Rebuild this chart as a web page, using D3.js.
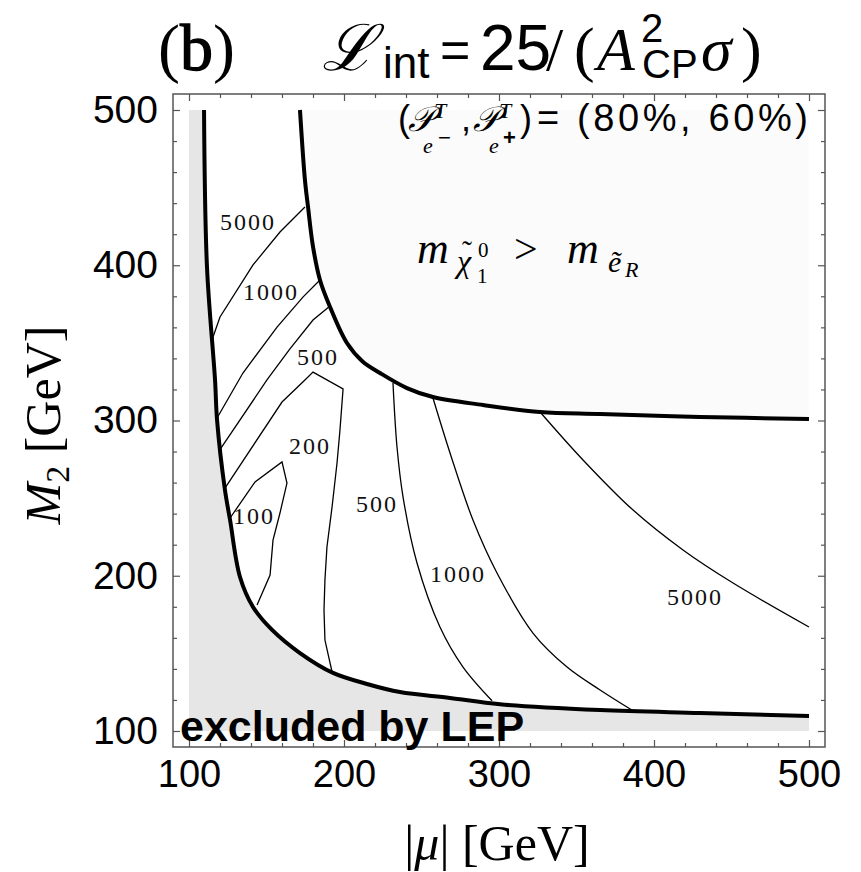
<!DOCTYPE html>
<html><head><meta charset="utf-8">
<script src="https://cdn.jsdelivr.net/npm/d3@7/dist/d3.min.js"></script>
<style>body{margin:0;background:#fff}svg{display:block}</style>
</head><body>
<svg id="chart" width="861" height="872"></svg>
<script>
// ---------- data (μ [GeV], M2 [GeV]) ----------
const xTickLabels = [100, 200, 300, 400, 500];
const yTickLabels = [100, 200, 300, 400, 500];
const minorTicks = [120, 140, 160, 180, 220, 240, 260, 280, 320, 340, 360, 380, 420, 440, 460, 480];

// LEP exclusion boundary (thick line)
const lepBoundary = [[109.7,500],[111.6,398.9],[116.8,326.1],[118.1,300.3],[123.2,255.2],[126.5,235.9],
  [132.9,199.2],[141.3,179.9],[153.6,165.1],[171.6,150.2],[192.9,137.4],[214.8,130.3],[236.1,125.1],
  [268.4,121.3],[300.7,117.2],[365.2,113.5],[429.7,111.6],[500,109.7]];

// m_chi1 > m_eR boundary (thick line)
const lspBoundary = [[171.6,500],[174.8,454.9],[176.8,437.5],[180,412],[184.5,390.5],[191,373.1],[201.9,349.9],
  [212,338],[223.2,330.6],[240.6,320.9],[257.4,315.1],[289.7,310],[326.5,305.5],[365.2,304.2],[429.7,302.3],[500,301]];

// contours of required luminosity
const contour5000L = [[174.8,437.5],[158.7,421.4],[141.3,400.2],[120,366.7],[115.5,353.8],[114.8,343.5]];
const contour1000L = [[184.5,390.5],[173.5,379.5],[156.8,360.2],[134.8,330.6],[118.1,301.6]];
const contour500L  = [[190,373],[180,364.7],[165,346],[150.3,326.1],[120.5,282]];
const contour200   = [[123.2,256.5],[160,311.9],[174.8,326.1],[180,331.2],[199.4,320.3],[197.4,293.9],
  [195.5,272.6],[192.3,244.3],[189,218.5],[187.7,197.3],[187.1,177.9],[187.7,158.6],[192.3,138]];
const contour100   = [[126.5,237.2],[142.6,260.4],[160,273.3],[163.2,259.7],[158.7,240.4],[154.2,223],
  [152.3,200.5],[143.9,181.2]];
const contour500R  = [[231.6,324.1],[234.2,282.9],[238.1,250.7],[247.1,208.2],[261.9,167],[276.8,141.2],[295.5,119.5]];
const contour1000R = [[257.4,314.5],[268.4,279.1],[283.2,235.9],[298.7,201.8],[321.9,163.1],[343.9,141.2],
  [365.2,126.4],[386.5,113]];
const contour5000R = [[326.5,305.5],[354.2,274.6],[386.5,242.3],[418.7,216.6],[451,195.3],[500,167]];

const contourLabels = [
  {text:"5000", mu:138.1, m2:427.8},
  {text:"1000", mu:152.9, m2:382.8},
  {text:"500",  mu:183.2, m2:340.9},
  {text:"200",  mu:178.1, m2:283.6},
  {text:"100",  mu:141.9, m2:238.5},
  {text:"500",  mu:221.3, m2:246.2},
  {text:"1000", mu:273.6, m2:201.1},
  {text:"5000", mu:426.5, m2:186.3}
];

// ---------- drawing ----------
const svg = d3.select("#chart");
const x = d3.scaleLinear().domain([100, 500]).range([189, 809]);
const y = d3.scaleLinear().domain([100, 500]).range([731, 110]);
const pad = 16;
const serif = "'Liberation Serif','DejaVu Serif',serif";
const sans = "'Liberation Sans',Arial,sans-serif";

const smooth = d3.line().x(d => x(d[0])).y(d => y(d[1])).curve(d3.curveCatmullRom.alpha(0.5));
const linear = d3.line().x(d => x(d[0])).y(d => y(d[1]));

// shaded regions
svg.append("path")
  .attr("d", smooth(lepBoundary) + `L${x(500)},${y(100)}L${x(100)},${y(100)}L${x(100)},${y(500)}Z`)
  .attr("fill", "#e6e6e6");
svg.append("path")
  .attr("d", smooth(lspBoundary) + `L${x(500)},${y(500)}Z`)
  .attr("fill", "#fbfbfb");

// contours
const thin = svg.append("g").attr("fill", "none").attr("stroke", "#000").attr("stroke-width", 1.3);
[contour5000L, contour1000L, contour500L, contour200, contour100].forEach(c =>
  thin.append("path").attr("d", linear(c)));
[contour500R, contour1000R, contour5000R].forEach(c =>
  thin.append("path").attr("d", smooth(c)));

// thick boundaries
const thick = svg.append("g").attr("fill", "none").attr("stroke", "#000").attr("stroke-width", 4)
  .attr("stroke-linejoin", "round");
thick.append("path").attr("d", smooth(lepBoundary));
thick.append("path").attr("d", smooth(lspBoundary));

// contour labels
svg.append("g").selectAll("text").data(contourLabels).join("text")
  .attr("x", d => x(d.mu)).attr("y", d => y(d.m2)).attr("dy", "0.35em")
  .attr("text-anchor", "middle").attr("font-family", serif).attr("font-size", 24)
  .attr("letter-spacing", 2).attr("fill", "#111").text(d => d.text);

// frame
svg.append("rect").attr("x", x(100) - pad).attr("y", y(500) - pad)
  .attr("width", x(500) - x(100) + 2 * pad).attr("height", y(100) - y(500) + 2 * pad)
  .attr("fill", "none").attr("stroke", "#555").attr("stroke-width", 1.5);

function styleAxis(g) {
  g.select(".domain").remove();
  g.selectAll(".tick line").attr("stroke", "#555").attr("stroke-width", 1.2);
}
const bottomY = y(100) + pad, topY = y(500) - pad, leftX = x(100) - pad, rightX = x(500) + pad;

// major ticks with labels
svg.append("g").attr("transform", `translate(0,${bottomY})`)
  .call(d3.axisBottom(x).tickValues(xTickLabels).tickSize(-7).tickPadding(13))
  .call(styleAxis)
  .call(g => g.selectAll("text").attr("font-family", sans).attr("font-size", 38).attr("fill", "#000"));
svg.append("g").attr("transform", `translate(${leftX},0)`)
  .call(d3.axisLeft(y).tickValues(yTickLabels).tickSize(-7).tickPadding(15))
  .call(styleAxis)
  .call(g => g.selectAll("text").attr("font-family", sans).attr("font-size", 39).attr("fill", "#000"));
svg.append("g").attr("transform", `translate(0,${topY})`)
  .call(d3.axisTop(x).tickValues(xTickLabels).tickSize(-7).tickFormat("")).call(styleAxis);
svg.append("g").attr("transform", `translate(${rightX},0)`)
  .call(d3.axisRight(y).tickValues(yTickLabels).tickSize(-7).tickFormat("")).call(styleAxis);
// minor ticks
svg.append("g").attr("transform", `translate(0,${bottomY})`)
  .call(d3.axisBottom(x).tickValues(minorTicks).tickSize(-4).tickFormat("")).call(styleAxis);
svg.append("g").attr("transform", `translate(0,${topY})`)
  .call(d3.axisTop(x).tickValues(minorTicks).tickSize(-4).tickFormat("")).call(styleAxis);
svg.append("g").attr("transform", `translate(${leftX},0)`)
  .call(d3.axisLeft(y).tickValues(minorTicks).tickSize(-4).tickFormat("")).call(styleAxis);
svg.append("g").attr("transform", `translate(${rightX},0)`)
  .call(d3.axisRight(y).tickValues(minorTicks).tickSize(-4).tickFormat("")).call(styleAxis);

// excluded label
svg.append("text").attr("x", 180).attr("y", 741).attr("font-family", sans).attr("font-weight", "bold")
  .attr("font-size", 43).attr("fill", "#000").text("excluded by LEP");

function put(txt, px, py, size, family, style, weight) {
  const t = svg.append("text").attr("x", px).attr("y", py).attr("font-size", size)
    .attr("font-family", family).attr("fill", "#000").text(txt);
  if (style) t.attr("font-style", style);
  if (weight) t.attr("font-weight", weight);
  return t;
}
// region label  m_{χ̃01} > m_{ẽR}
put("m", 417, 263, 44, serif, "italic");
put("χ", 457, 272, 32, serif, "italic");
put("˜", 462, 261, 30, serif);
put("0", 478, 257, 21, serif);
put("1", 477, 283, 21, serif);
put(">", 514, 263, 42, serif);
put("m", 567, 263, 44, serif, "italic");
put("ẽ", 608, 272, 30, serif, "italic");
put("R", 625, 277, 22, serif, "italic");

// polarisation label
put("(", 398, 131, 36, sans);
put("𝒫", 408, 131, 35, serif, "italic");
put("T", 434, 118, 22, serif, "italic");
put("e", 423, 153, 22, serif, "italic");
put("−", 438, 145, 22, sans);
put(",", 461, 131, 36, sans);
put("𝒫", 473, 131, 35, serif, "italic");
put("T", 499, 118, 22, serif, "italic");
put("e", 489, 153, 22, serif, "italic");
put("+", 503, 145, 22, sans, null, "bold");
put(")", 520, 131, 36, sans);
put("= (80%, 60%)", 537, 131, 38, sans).attr("textLength", 271).attr("lengthAdjust", "spacing");

// title
const tb = put("(", 158, 70, 66, serif);
tb.append("tspan").attr("stroke", "#000").attr("stroke-width", 1.3).text("b");
tb.append("tspan").text(")");
put("ℒ", 322, 70, 64, serif, "italic");
put("int", 383, 78, 44, sans);
put("=", 440, 68, 52, sans);
put("25", 480, 70, 64, sans);
put("/", 546, 70, 62, serif);
put("(", 574, 70, 62, serif);
put("A", 597, 70, 62, serif, "italic");
put("2", 641, 42, 40, sans);
put("CP", 642, 78, 40, sans);
put("σ", 701, 70, 62, serif, "italic");
put(")", 741, 70, 62, serif);

// axis titles
const yl = svg.append("text").attr("transform", "translate(60,425) rotate(-90)")
  .attr("text-anchor", "middle").attr("font-family", serif).attr("font-size", 50).attr("fill", "#000");
yl.append("tspan").attr("font-style", "italic").text("M");
yl.append("tspan").attr("font-size", 34).attr("dy", 9).text("2");
yl.append("tspan").attr("dy", -9).text(" [GeV]");

const xl = svg.append("text").attr("x", 497).attr("y", 860).attr("text-anchor", "middle")
  .attr("font-family", serif).attr("font-size", 50).attr("fill", "#000");
xl.append("tspan").text("|");
xl.append("tspan").attr("font-style", "italic").text("μ");
xl.append("tspan").text("| [GeV]");
</script>
</body></html>
